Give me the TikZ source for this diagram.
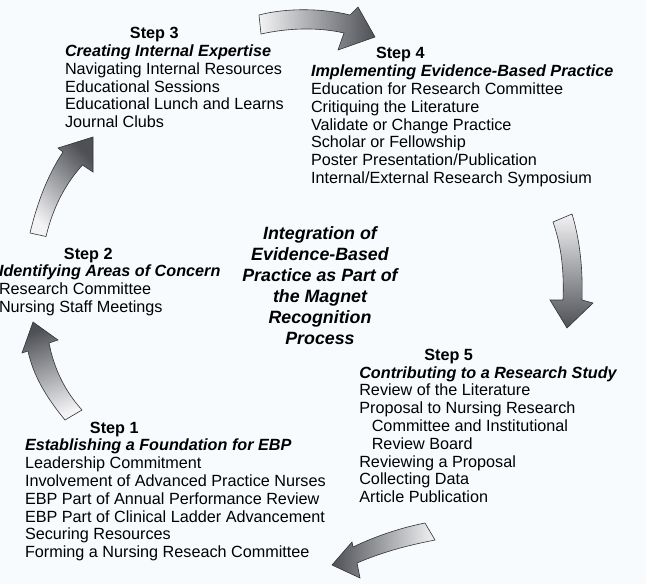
\documentclass[tikz,border=0pt]{standalone}
\usepackage{fontspec}
\setmainfont{Liberation Sans}
\definecolor{paper}{RGB}{247,251,254}
\definecolor{arrowlight}{RGB}{243,243,245}
\definecolor{arrowdark}{RGB}{78,80,86}
\newcommand{\stephead}[1]{\hspace*{65pt}\textbf{Step #1}}
\newcommand{\steptopic}[1]{\textbf{\textit{#1}}}
\begin{document}
\begin{tikzpicture}[x=1pt, y=-1pt, line join=miter,
  every node/.style={inner sep=0pt, outer sep=0pt},
  stepblock/.style={anchor=north west, align=left, font={\fontsize{16.2}{17.8}\selectfont}},
  blockarrow/.style={draw=black!80, line width=0.6pt}]
  \fill[paper] (0,0) rectangle (646,584);
  \useasboundingbox (0,0) rectangle (646,584);

  % the five steps
  \node[stepblock] (stepthree) at (65,27.4) {\stephead{3}\\
    \steptopic{Creating Internal Expertise}\\
    Navigating Internal Resources\\
    Educational Sessions\\
    Educational Lunch and Learns\\
    Journal Clubs};
  \node[stepblock] (stepfour) at (311,47.6) {\stephead{4}\\
    \steptopic{Implementing Evidence-Based Practice}\\
    Education for Research Committee\\
    Critiquing the Literature\\
    Validate or Change Practice\\
    Scholar or Fellowship\\
    Poster Presentation/Publication\\
    Internal/External Research Symposium};
  \node[stepblock] (steptwo) at (-1,247.8) {\stephead{2}\\
    \steptopic{Identifying Areas of Concern}\\
    Research Committee\\
    Nursing Staff Meetings};
  \node[stepblock] (stepfive) at (359.3,349) {\stephead{5}\\
    \steptopic{Contributing to a Research Study}\\
    Review of the Literature\\
    Proposal to Nursing Research\\
    \hspace*{12.5pt}Committee and Institutional\\
    \hspace*{12.5pt}Review Board\\
    Reviewing a Proposal\\
    Collecting Data\\
    Article Publication};
  \node[stepblock] (stepone) at (25,421.8) {\stephead{1}\\
    \steptopic{Establishing a Foundation for EBP}\\
    Leadership Commitment\\
    Involvement of Advanced Practice Nurses\\
    EBP Part of Annual Performance Review\\
    EBP Part of Clinical Ladder Advancement\\
    Securing Resources\\
    Forming a Nursing Reseach Committee};

  % centre
  \node[anchor=north, align=center, font={\fontsize{17.8}{21}\selectfont\bfseries\itshape}] (hub) at (320,226.8) {Integration of\\
    Evidence-Based\\
    Practice as Part of\\
    the Magnet\\
    Recognition\\
    Process};

  % curved block arrows
  \path[blockarrow, left color=arrowlight, right color=arrowdark]
    (259,15) .. controls (285,8) and (322,8) .. (350,15) -- (358,7) -- (375,37) -- (338,50)
    -- (344,33) .. controls (318,27) and (288,28) .. (261,34) -- cycle;
  \path[blockarrow, top color=arrowlight, bottom color=arrowdark]
    (553,222) -- (572,214) .. controls (580,240) and (583,270) .. (582,300) -- (593,303)
    -- (567,328) -- (550,300) -- (563,300) .. controls (564,272) and (562,248) .. (553,222) -- cycle;
  \path[blockarrow, left color=arrowdark, right color=arrowlight]
    (425,523) -- (435,540) .. controls (410,545) and (385,551) .. (357,563) -- (360,578)
    -- (332,565) -- (352,542) -- (353,547) .. controls (376,536) and (400,528) .. (425,523) -- cycle;
  \path[blockarrow, top color=arrowdark, bottom color=arrowlight, shading angle=20]
    (65,420) .. controls (46,397) and (33,375) .. (28,351) -- (22,353) -- (33,322) -- (58,340)
    -- (49,343) .. controls (54,368) and (64,390) .. (82,410) -- cycle;
  \path[blockarrow, top color=arrowdark, bottom color=arrowlight, shading angle=-45]
    (30,233) .. controls (38,200) and (48,175) .. (63,152) -- (58,148) -- (93,137) -- (93,172)
    -- (82.5,165) .. controls (66,183) and (53,207) .. (46,236.5) -- cycle;
\end{tikzpicture}
\end{document}
